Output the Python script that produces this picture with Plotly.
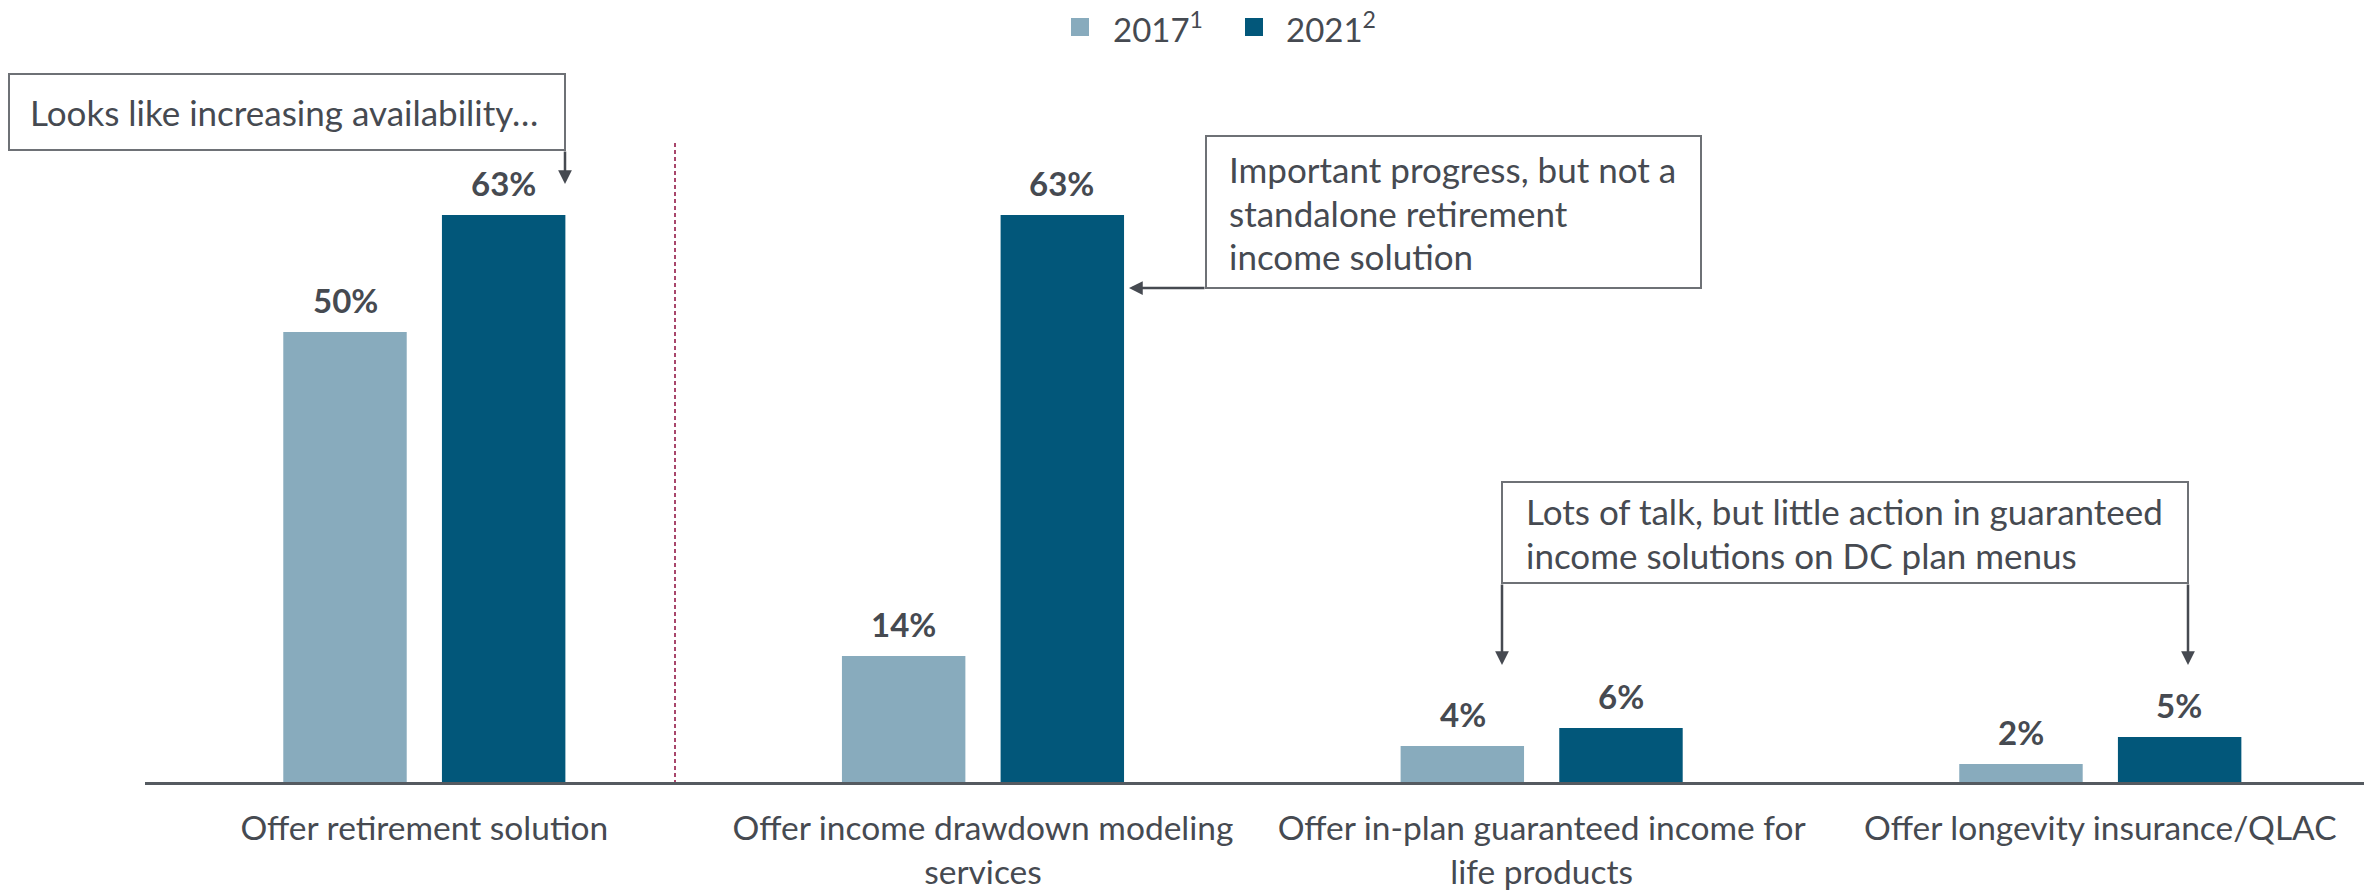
import plotly.graph_objects as go

# Survey results: share of plan sponsors offering each retirement income feature
categories = [
    "Offer retirement solution",
    "Offer income drawdown modeling<br>services",
    "Offer in-plan guaranteed income for<br>life products",
    "Offer longevity insurance/QLAC",
]
values_2017 = [50, 14, 4, 2]
values_2021 = [63, 63, 6, 5]
series_names = ["2017<sup>1</sup>", "2021<sup>2</sup>"]

COLOR_2017 = "#88ABBD"
COLOR_2021 = "#02577A"
TEXT = "#464A51"
BOX_LINE = "#6E7176"
FONT = "Lato"

W, H = 2364, 894
L, R, T, B = 145, 0, 62, 112
PW, PH = W - L - R, H - T - B


def px_x(x):
    return (x - L) / PW


def px_y(y):
    return (H - B - y) / PH


fig = go.Figure()
fig.add_trace(go.Bar(x=categories, y=values_2017, name=series_names[0],
                     marker=dict(color=COLOR_2017, line=dict(width=0)),
                     showlegend=False))
fig.add_trace(go.Bar(x=categories, y=values_2021, name=series_names[1],
                     marker=dict(color=COLOR_2021, line=dict(width=0)),
                     showlegend=False))

annotations = []
shapes = []

# value labels above each bar
for vals, shift in ((values_2017, -79), (values_2021, 79)):
    for cat, v in zip(categories, vals):
        annotations.append(dict(
            x=cat, y=v, xref="x", yref="y", text=f"<b>{v}%</b>",
            showarrow=False, xshift=shift, yshift=32, yanchor="middle",
            font=dict(family=FONT, size=33, color=TEXT)))

# legend: coloured square followed by the series name
for name, color, sx, tx in ((series_names[0], COLOR_2017, 1071, 1111),
                            (series_names[1], COLOR_2021, 1245, 1284)):
    shapes.append(dict(type="rect", xref="paper", yref="paper",
                       x0=px_x(sx), x1=px_x(sx + 18), y0=px_y(36), y1=px_y(18),
                       line=dict(width=0), fillcolor=color))
    annotations.append(dict(
        x=px_x(tx), y=px_y(27), xref="paper", yref="paper", text=name,
        showarrow=False, xanchor="left", yanchor="middle",
        font=dict(family=FONT, size=33, color=TEXT)))

# dashed separator between the first group and the rest
shapes.append(dict(type="line", xref="paper", yref="paper",
                   x0=px_x(675), x1=px_x(675), y0=px_y(143), y1=px_y(782),
                   line=dict(color="#A8466B", width=2, dash="4px,3px")))


def callout(x0, y0, x1, y1, lines, tx, ty):
    shapes.append(dict(type="rect", xref="paper", yref="paper",
                       x0=px_x(x0), x1=px_x(x1), y0=px_y(y0), y1=px_y(y1),
                       line=dict(color=BOX_LINE, width=2), fillcolor="white",
                       layer="above"))
    for line, y in zip(lines, ty):
        annotations.append(dict(
            x=px_x(tx), y=px_y(y), xref="paper", yref="paper", text=line,
            showarrow=False, xanchor="left", yanchor="middle",
            font=dict(family=FONT, size=35, color=TEXT)))


def arrow(x_from, y_from, x_to, y_to):
    annotations.append(dict(
        x=px_x(x_to), y=px_y(y_to), xref="paper", yref="paper",
        ax=x_from - x_to, ay=y_from - y_to, axref="pixel", ayref="pixel",
        text="", showarrow=True, arrowhead=2, arrowsize=1.1, arrowwidth=2.5,
        arrowcolor=TEXT, standoff=0, startstandoff=0))


callout(9, 74, 565, 150, ["Looks like increasing availability…"], 28, [112])
arrow(565, 150, 565, 184)

callout(1206, 136, 1701, 288,
        ["Important progress, but not a", "standalone retirement", "income solution"],
        1227, [169, 213, 256])
arrow(1206, 288, 1129, 288)

callout(1502, 482, 2188, 583,
        ["Lots of talk, but little action in guaranteed",
         "income solutions on DC plan menus"],
        1524, [511, 555])
arrow(1502, 583, 1502, 665)
arrow(2188, 583, 2188, 665)

fig.update_layout(
    width=W, height=H,
    margin=dict(l=L, r=R, t=T, b=B, pad=0, autoexpand=False),
    paper_bgcolor="white", plot_bgcolor="white",
    barmode="group", bargap=0.432, bargroupgap=0.222,
    font=dict(family=FONT, size=34, color=TEXT),
    showlegend=False,
    xaxis=dict(range=[-0.5, 3.472], showgrid=False, zeroline=False,
               showline=True, linecolor="#555A60", linewidth=3,
               ticks="", ticklabelstandoff=15, automargin=False,
               tickfont=dict(family=FONT, size=33.5, color=TEXT)),
    yaxis=dict(range=[0, 80], visible=False, showgrid=False, zeroline=False,
               automargin=False),
    annotations=annotations,
    shapes=shapes,
)

fig.write_html("out.html")
